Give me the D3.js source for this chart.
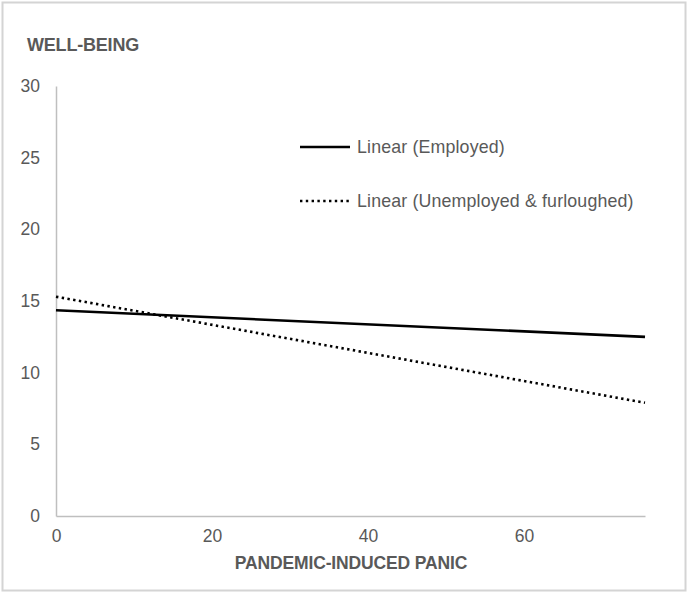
<!DOCTYPE html>
<html>
<head>
<meta charset="utf-8">
<script src="https://cdn.jsdelivr.net/npm/d3@7"></script>
<style>
  body { margin: 0; background: #fff; }
  text { font-family: "Liberation Sans", Arial, sans-serif; fill: #595959; }
</style>
</head>
<body>
<svg id="chart"></svg>
<script>
var width = 689;
var height = 594;
var margin = { top: 86, right: 44, bottom: 78, left: 56 };

// trend line endpoints
var panic = [0, 75.5];
var employed = [14.35, 12.5];
var unemployed = [15.3, 7.9];
var seriesNames = ["Linear (Employed)", "Linear (Unemployed & furloughed)"];
var xTicks = [0, 20, 40, 60];
var yTicks = [0, 5, 10, 15, 20, 25, 30];

var xScale = d3.scaleLinear().domain([0, 75.5]).range([margin.left, width - margin.right]);
var yScale = d3.scaleLinear().domain([0, 30]).range([height - margin.bottom, margin.top]);

var svg = d3.select("#chart")
            .attr("width", width)
            .attr("height", height);

// outer frame
svg.append("rect")
    .attr("x", 2.5).attr("y", 2.5)
    .attr("width", 683).attr("height", 588)
    .attr("fill", "none")
    .attr("stroke", "#d4d4d4")
    .attr("stroke-width", 2);

var xAxis = svg.append("g")
    .attr("transform", "translate(0," + yScale(0) + ")")
    .call(d3.axisBottom(xScale).tickValues(xTicks).tickSize(0).tickPadding(14));
xAxis.select(".domain").attr("stroke", "#bfbfbf").attr("stroke-width", 1.5);
xAxis.selectAll("text").style("font-size", "17.5px").attr("fill", "#595959");

var yAxis = svg.append("g")
    .attr("transform", "translate(" + xScale(0) + ",0)")
    .call(d3.axisLeft(yScale).tickValues(yTicks).tickSize(0).tickPadding(16));
yAxis.select(".domain").attr("stroke", "#bfbfbf").attr("stroke-width", 1.5);
yAxis.selectAll("text").style("font-size", "17.5px").attr("fill", "#595959");

svg.append("text")
    .attr("x", 27)
    .attr("y", 51)
    .style("font-size", "18px")
    .style("font-weight", "bold")
    .style("letter-spacing", "-0.2px")
    .text("WELL-BEING");

svg.append("text")
    .attr("x", (230 + 472) / 2)
    .attr("y", 569)
    .attr("text-anchor", "middle")
    .style("font-size", "17.5px")
    .style("font-weight", "bold")
    .style("letter-spacing", "-0.15px")
    .text("PANDEMIC-INDUCED PANIC");

var line = d3.line()
    .x(function(d) { return xScale(d[0]); })
    .y(function(d) { return yScale(d[1]); });

var series = [
  { name: seriesNames[0], values: d3.zip(panic, employed), dash: null },
  { name: seriesNames[1], values: d3.zip(panic, unemployed), dash: "2.4,3.4" }
];

series.forEach(function(s, i) {
  svg.append("path")
      .datum(s.values)
      .attr("d", line)
      .attr("fill", "none")
      .attr("stroke", "#000")
      .attr("stroke-width", 2.6)
      .attr("stroke-dasharray", s.dash);

  var ly = 147 + i * 54;
  svg.append("line")
      .attr("x1", 300).attr("x2", 350)
      .attr("y1", ly).attr("y2", ly)
      .attr("stroke", "#000")
      .attr("stroke-width", 2.6)
      .attr("stroke-dasharray", s.dash);
  svg.append("text")
      .attr("x", 357)
      .attr("y", ly)
      .attr("dy", "0.35em")
      .style("font-size", "17.8px")
      .style("letter-spacing", "0.15px")
      .text(s.name);
});
</script>
</body>
</html>
